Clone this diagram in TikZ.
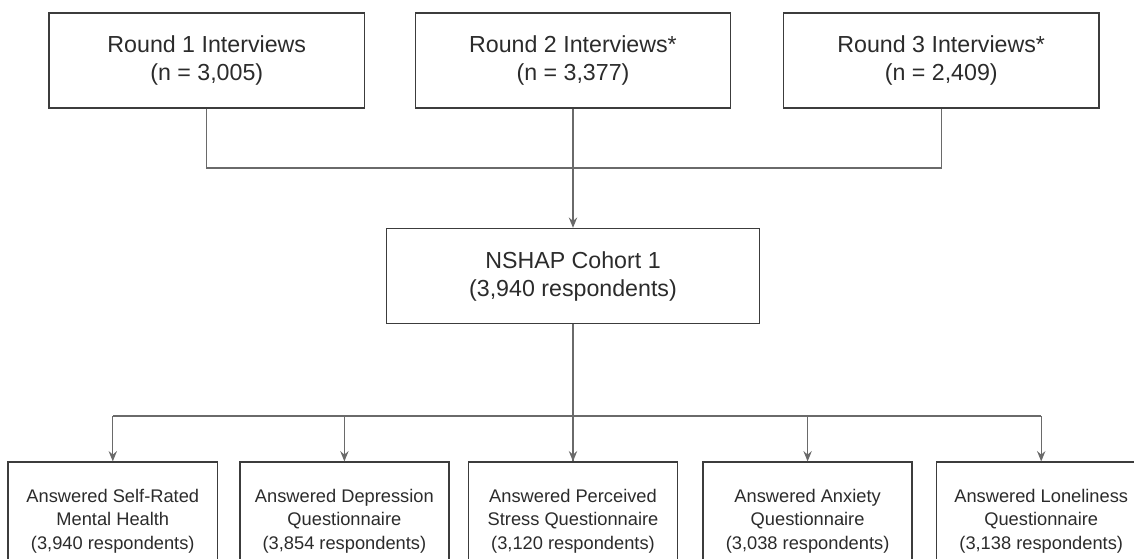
\documentclass[tikz,border=0pt]{standalone}
\usepackage{fontspec}
\setmainfont{Liberation Sans}
\usepackage{xcolor}
\usepackage{tikz}
\usetikzlibrary{arrows.meta,positioning,calc}
\definecolor{boxline}{HTML}{3C3C3C}
\definecolor{wireline}{HTML}{6A6A6A}
\definecolor{inktext}{HTML}{2B2B2B}
\tikzset{
  roundbox/.style={
    rectangle, draw=boxline, line width=1.1pt, text=inktext,
    minimum width=7.875cm, minimum height=2.375cm,
    font=\fontsize{16.5}{19.9}\selectfont, align=center,
    inner sep=2pt
  },
  cohortbox/.style={
    roundbox, minimum width=9.325cm
  },
  measurebox/.style={
    rectangle, draw=boxline, line width=1.1pt, text=inktext,
    minimum width=5.225cm, minimum height=2.95cm,
    font=\fontsize{13}{16.5}\selectfont, align=center,
    inner sep=2pt
  },
  flowline/.style={
    draw=wireline, line width=0.8pt
  },
  flowarrow/.style={
    flowline, -{Stealth[length=2.6mm, width=2.1mm, inset=0.9mm]}
  },
}

\begin{document}
\begin{tikzpicture}[x=0.025cm, y=-0.025cm]
\useasboundingbox (0,0) rectangle (1134,559);

% Interview rounds
\node[roundbox] (r2) at (573,60.5) {Round 2 Interviews*\\(n = 3,377)};
\node[roundbox, left=1.24cm of r2] (r1) {Round 1 Interviews\\(n = 3,005)};
\node[roundbox, right=1.29cm of r2] (r3) {Round 3 Interviews*\\(n = 2,409)};

% Cohort
\node[cohortbox, below=2.975cm of r2] (cohort) {NSHAP Cohort 1\\(3,940 respondents)};

% Measures
\node[measurebox, below=3.425cm of cohort] (m3)
  {Answered Perceived\\Stress Questionnaire\\(3,120 respondents)};
\node[measurebox, left=0.45cm of m3] (m2) {Answered Depression\\Questionnaire\\(3,854 respondents)};
\node[measurebox, left=0.525cm of m2] (m1) {Answered Self-Rated\\Mental Health\\(3,940 respondents)};
\node[measurebox, right=0.6cm of m3] (m4) {Answered Anxiety\\Questionnaire\\(3,038 respondents)};
\node[measurebox, right=0.575cm of m4] (m5) {Answered Loneliness\\Questionnaire\\(3,138 respondents)};

% Rounds merge into the cohort
\coordinate (topbus) at (r2.south |- 0,168);
\draw[flowline] (r1.south) |- (topbus) -| (r3.south);
\draw[flowarrow] (r2.south) -- (cohort.north);

% Cohort splits into the measures
\coordinate (lowbus) at (cohort.south |- 0,416);
\draw[flowline] (cohort.south) -- (m3.north);
\draw[flowline] (m1.north |- lowbus) -- (m5.north |- lowbus);
\foreach \m in {m1,m2,m3,m4,m5}
  \draw[flowarrow] (\m.north |- lowbus) -- (\m.north);

\end{tikzpicture}
\end{document}
